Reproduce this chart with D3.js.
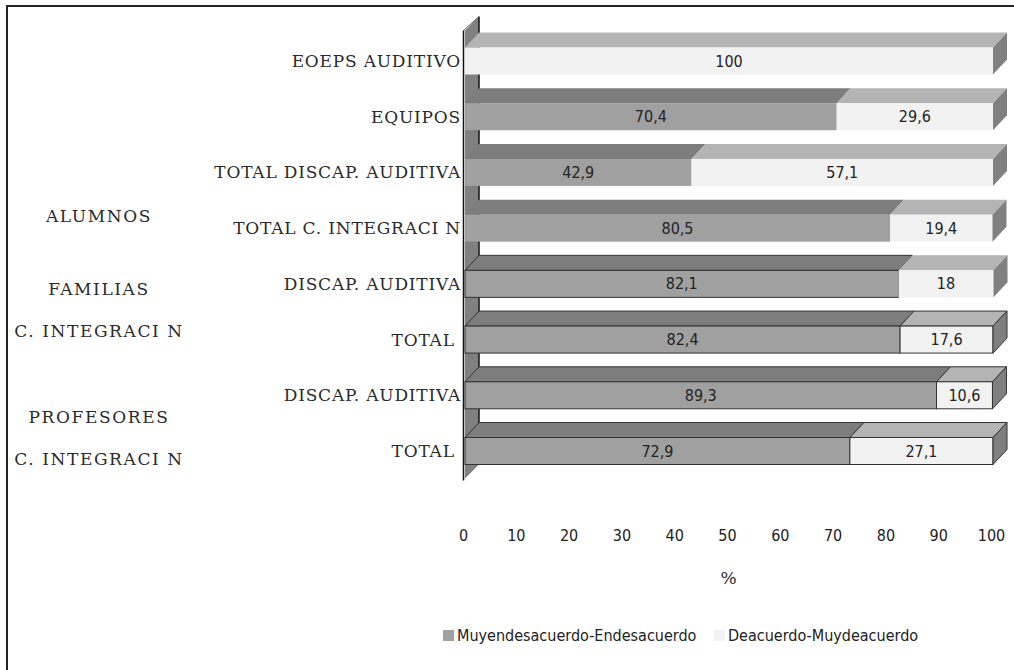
<!DOCTYPE html>
<html>
<head>
<meta charset="utf-8">
<script src="https://cdn.jsdelivr.net/npm/d3@7"></script>
<style>
    body { margin: 0; background: #ffffff; }
    .cat_label   { font-family: "DejaVu Serif", "Liberation Serif", serif; font-size: 17px; letter-spacing: 0.8px; fill: #2a2a2a; }
    .group_label { font-family: "DejaVu Serif", "Liberation Serif", serif; font-size: 17px; letter-spacing: 1.6px; fill: #2a2a2a; }
    .value_label { font-family: "DejaVu Sans", sans-serif; font-stretch: condensed; font-size: 16px; fill: #222; }
    .tick_label  { font-family: "DejaVu Sans", sans-serif; font-stretch: condensed; font-size: 16px; fill: #222; }
</style>
</head>
<body>
<svg id="bar_chart" width="1014" height="670"></svg>
<script>
// categories, top to bottom
const categories  = ["EOEPS AUDITIVO", "EQUIPOS", "TOTAL DISCAP. AUDITIVA", "TOTAL C. INTEGRACI N",
                     "DISCAP. AUDITIVA", "TOTAL ", "DISCAP. AUDITIVA", "TOTAL "];
const desacuerdo  = [0, 70.4, 42.9, 80.5, 82.1, 82.4, 89.3, 72.9];
const acuerdo     = [100, 29.6, 57.1, 19.4, 18, 17.6, 10.6, 27.1];
const seriesNames = ["Muyendesacuerdo-Endesacuerdo", "Deacuerdo-Muydeacuerdo"];
const groupLabels = ["ALUMNOS", "FAMILIAS", "C. INTEGRACI N", "PROFESORES", "C. INTEGRACI N"];
const xTicks      = [0, 10, 20, 30, 40, 50, 60, 70, 80, 90, 100];

// layout
const groupLabelY = [216, 289, 331, 417, 459];
const depthX = 14, depthY = 15, frontH = 27;

const colors = {
    darkFront  : "#a0a0a0",
    darkTop    : "#7d7d7d",
    lightFront : "#f2f2f2",
    lightTop   : "#b4b4b4",
    side       : "#808080",
    wall       : "#808080"
};

const svg = d3.select("#bar_chart");

// outer frame (only left and top edges are in view)
svg.append("rect")
    .attr("x", 7).attr("y", 6)
    .attr("width", 1030).attr("height", 700)
    .attr("fill", "none")
    .attr("stroke", "#222")
    .attr("stroke-width", 2);

const rows = categories.map((c, i) => ({ i: i, label: c, v1: desacuerdo[i], v2: acuerdo[i] }));

const xScale = d3.scaleLinear().domain([0, 100]).range([465, 993]);
const yScale = d3.scalePoint().domain(d3.range(categories.length)).range([61, 451]);

const x0 = xScale(0);

// left wall
const wallTop = yScale(0) - frontH / 2 - depthY - 2;
const wallBot = yScale(categories.length - 1) + frontH / 2 + 14;

svg.append("path")
    .attr("d", `M${x0},${wallTop} L${x0 + depthX},${wallTop - depthX} L${x0 + depthX},${wallBot - depthX} L${x0},${wallBot} Z`)
    .attr("fill", colors.wall);

svg.append("line")
    .attr("x1", x0 + depthX).attr("x2", x0 + depthX)
    .attr("y1", wallTop - depthX).attr("y2", wallBot - depthX)
    .attr("stroke", "#111").attr("stroke-width", 1.5);

svg.append("line")
    .attr("x1", x0 - 1.5).attr("x2", x0 + depthX)
    .attr("y1", wallTop).attr("y2", wallTop - depthX)
    .attr("stroke", "#666").attr("stroke-width", 1);

svg.append("line")
    .attr("x1", x0 - 1.5).attr("x2", x0 - 1.5)
    .attr("y1", wallTop).attr("y2", wallBot + 2)
    .attr("stroke", "#111").attr("stroke-width", 1.5);

// bars (3d: top face, front face, right side)
const chart = svg.append("g").attr("id", "bars");

rows.forEach(d =>
{
    const yFront = yScale(d.i) - frontH / 2;
    const xa = xScale(0), xb = xScale(d.v1), xc = xScale(d.v1 + d.v2);
    const outlineDark  = d.i >= 4 ? "#333" : "none";
    const outlineLight = d.i >= 5 ? "#333" : "none";

    const segs = [
        { x1: xa, x2: xb, front: colors.darkFront,  top: colors.darkTop,  stroke: outlineDark },
        { x1: xb, x2: xc, front: colors.lightFront, top: colors.lightTop, stroke: outlineLight }
    ];

    segs.forEach(s =>
    {
        if (s.x2 - s.x1 <= 0) return;

        chart.append("path")
            .attr("d", `M${s.x1},${yFront} L${s.x1 + depthX},${yFront - depthY} L${s.x2 + depthX},${yFront - depthY} L${s.x2},${yFront} Z`)
            .attr("fill", s.top)
            .attr("stroke", s.stroke)
            .attr("stroke-width", 1);

        chart.append("rect")
            .attr("x", s.x1).attr("y", yFront)
            .attr("width", s.x2 - s.x1).attr("height", frontH)
            .attr("fill", s.front)
            .attr("stroke", s.stroke)
            .attr("stroke-width", 1);
    });

    chart.append("path")
        .attr("d", `M${xc},${yFront} L${xc + depthX},${yFront - depthY} L${xc + depthX},${yFront + frontH - depthY} L${xc},${yFront + frontH} Z`)
        .attr("fill", colors.side)
        .attr("stroke", outlineLight)
        .attr("stroke-width", 1);

    // value labels
    [[d.v1, xa, xb], [d.v2, xb, xc]].forEach(([v, p, q]) =>
    {
        if (v <= 0) return;
        chart.append("text")
            .attr("class", "value_label")
            .attr("x", (p + q) / 2)
            .attr("y", yScale(d.i))
            .attr("dy", "0.35em")
            .attr("text-anchor", "middle")
            .text(String(v).replace(".", ","));
    });
});

// category labels
svg.append("g").selectAll("text")
    .data(rows)
    .join("text")
    .attr("class", "cat_label")
    .attr("x", x0 - 4)
    .attr("y", d => yScale(d.i))
    .attr("dy", "0.35em")
    .attr("text-anchor", "end")
    .attr("xml:space", "preserve")
    .style("white-space", "pre")
    .text(d => d.label);

// group labels on the far left
svg.append("g").selectAll("text")
    .data(groupLabels)
    .join("text")
    .attr("class", "group_label")
    .attr("x", 99)
    .attr("y", (d, i) => groupLabelY[i])
    .attr("dy", "0.35em")
    .attr("text-anchor", "middle")
    .text(d => d);

// x axis labels
const axisX = d3.axisBottom(xScale).tickValues(xTicks).tickSize(0).tickPadding(0);
const gAxis = svg.append("g")
    .attr("transform", "translate(-2,530)")
    .call(axisX);
gAxis.select(".domain").remove();
gAxis.selectAll("text")
    .attr("class", "tick_label")
    .attr("font-family", null)
    .attr("font-size", null)
    .attr("fill", "#222");

svg.append("text")
    .attr("class", "cat_label")
    .attr("x", xScale(50))
    .attr("y", 578)
    .attr("dy", "0.35em")
    .attr("text-anchor", "middle")
    .text("%");

// legend
const legendX = [443, 714];
const legendColors = [colors.darkFront, colors.lightFront];
const legend = svg.append("g").selectAll("g")
    .data(seriesNames)
    .join("g")
    .attr("transform", (d, i) => `translate(${legendX[i]},635)`);

legend.append("rect")
    .attr("x", 0).attr("y", -5)
    .attr("width", 11).attr("height", 11)
    .attr("fill", (d, i) => legendColors[i]);

legend.append("text")
    .attr("class", "value_label")
    .attr("x", 14)
    .attr("y", 0)
    .attr("dy", "0.35em")
    .text(d => d);
</script>
</body>
</html>
